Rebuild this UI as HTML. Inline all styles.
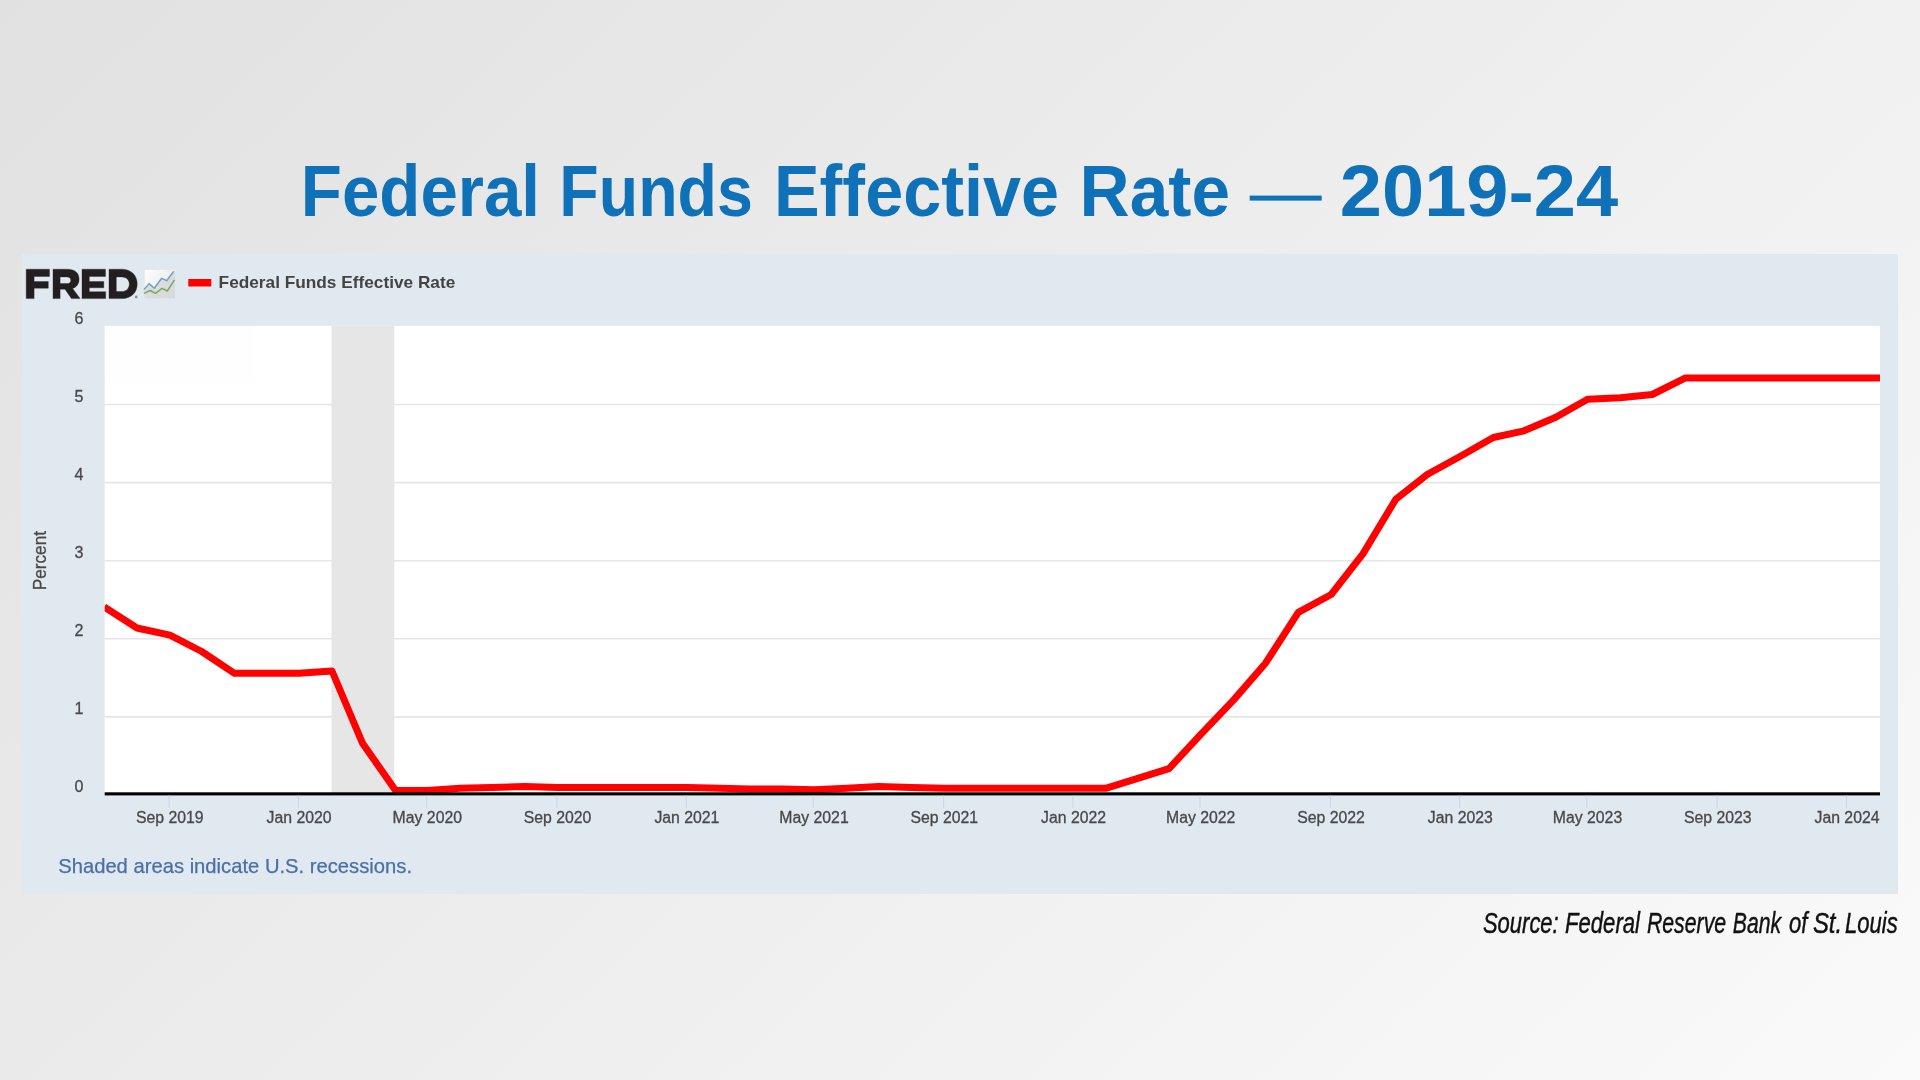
<!DOCTYPE html>
<html>
<head>
<meta charset="utf-8">
<title>Federal Funds Effective Rate</title>
<style>
html,body{margin:0;padding:0;}
body{width:1920px;height:1080px;overflow:hidden;position:relative;font-family:"Liberation Sans",sans-serif;
background:linear-gradient(136.6deg,#e1e1e1 0%,#fafafa 100%);}
#panel{position:absolute;left:22px;top:254px;width:1876px;height:640px;background:#e1e9f0;}
#chart{position:absolute;left:0;top:0;width:1920px;height:1080px;opacity:0.999;will-change:transform;}
</style>
</head>
<body>
<div id="panel"></div>
<svg id="chart" width="1920" height="1080" viewBox="0 0 1920 1080" font-family="Liberation Sans, sans-serif">
  <defs>
    <linearGradient id="icg" x1="0" y1="0" x2="1" y2="1">
      <stop offset="0" stop-color="#ffffff"/><stop offset="0.55" stop-color="#efefef"/><stop offset="1" stop-color="#d9d9d9"/>
    </linearGradient>
    <clipPath id="plotc"><rect x="104.7" y="325.9" width="1775.3" height="470"/></clipPath>
    <clipPath id="icc"><rect x="144.5" y="269.6" width="30.5" height="28.8" rx="2" ry="2"/></clipPath>
  </defs>
  <!-- title -->
  <g font-size="72.5" font-weight="bold" fill="#0f71b8"><text x="300.86" y="216.3" textLength="239.19" lengthAdjust="spacingAndGlyphs">Federal</text><text x="559.35" y="216.3" textLength="193.44" lengthAdjust="spacingAndGlyphs">Funds</text><text x="773.98" y="216.3" textLength="285.11" lengthAdjust="spacingAndGlyphs">Effective</text><text x="1079.61" y="216.3" textLength="150.45" lengthAdjust="spacingAndGlyphs">Rate</text><text x="1339.86" y="216.3" textLength="278.22" lengthAdjust="spacingAndGlyphs">2019-24</text></g>
  <rect x="1249.7" y="195.6" width="72" height="5" fill="#0f71b8"/>
  <!-- plot -->
  <rect x="104.7" y="325.9" width="1775.3" height="469" fill="#ffffff"/>
  <rect x="331.5" y="325.9" width="62.8" height="468" fill="#e6e6e6"/>
  <g stroke="#e6e6e6" stroke-width="1.6"><line x1="104.7" x2="1880" y1="716.9" y2="716.9"/><line x1="104.7" x2="1880" y1="638.8" y2="638.8"/><line x1="104.7" x2="1880" y1="560.7" y2="560.7"/><line x1="104.7" x2="1880" y1="482.6" y2="482.6"/><line x1="104.7" x2="1880" y1="404.5" y2="404.5"/></g>
  <polyline clip-path="url(#plotc)" fill="none" stroke="#ff0000" stroke-width="7" stroke-linejoin="round" stroke-linecap="butt" points="104.2,607.0 137.0,628.0 169.9,635.1 201.7,651.5 234.5,673.3 266.3,673.3 299.2,673.3 332.0,671.0 362.7,743.6 395.6,790.5 427.4,790.5 460.2,788.2 492.0,787.4 524.8,786.6 557.7,787.4 589.5,787.4 622.3,787.4 654.1,787.4 687.0,787.4 719.8,788.2 749.5,788.9 782.3,788.9 814.1,789.7 846.9,788.2 878.7,786.6 911.6,787.4 944.4,788.2 976.2,788.2 1009.1,788.2 1040.8,788.2 1073.7,788.2 1106.5,788.2 1136.2,778.8 1169.0,768.6 1200.8,734.3 1233.7,699.9 1265.5,663.2 1298.3,612.4 1331.2,594.5 1362.9,553.9 1395.8,499.2 1427.6,474.2 1460.4,456.2 1493.3,437.5 1522.9,431.2 1555.8,417.2 1587.6,399.2 1620.4,397.7 1652.2,394.5 1685.0,378.1 1717.9,378.1 1749.7,378.1 1782.5,378.1 1814.3,378.1 1847.2,378.1 1880.0,378.1"/>
  <rect x="104.7" y="792.3" width="1775.3" height="3.1" fill="#000"/>
  <g stroke="#c9d4e8" stroke-width="1"><line x1="169.1" y1="795.5" x2="169.1" y2="807.8"/><line x1="298.4" y1="795.5" x2="298.4" y2="807.8"/><line x1="426.6" y1="795.5" x2="426.6" y2="807.8"/><line x1="556.9" y1="795.5" x2="556.9" y2="807.8"/><line x1="686.2" y1="795.5" x2="686.2" y2="807.8"/><line x1="813.3" y1="795.5" x2="813.3" y2="807.8"/><line x1="943.6" y1="795.5" x2="943.6" y2="807.8"/><line x1="1072.9" y1="795.5" x2="1072.9" y2="807.8"/><line x1="1200.0" y1="795.5" x2="1200.0" y2="807.8"/><line x1="1330.4" y1="795.5" x2="1330.4" y2="807.8"/><line x1="1459.6" y1="795.5" x2="1459.6" y2="807.8"/><line x1="1586.8" y1="795.5" x2="1586.8" y2="807.8"/><line x1="1717.1" y1="795.5" x2="1717.1" y2="807.8"/><line x1="1846.4" y1="795.5" x2="1846.4" y2="807.8"/></g>
  <g font-size="15.8" fill="#484848" stroke="#484848" stroke-width="0.3"><text x="169.8" y="822.5" text-anchor="middle">Sep 2019</text><text x="299.1" y="822.5" text-anchor="middle">Jan 2020</text><text x="427.3" y="822.5" text-anchor="middle">May 2020</text><text x="557.6" y="822.5" text-anchor="middle">Sep 2020</text><text x="686.9" y="822.5" text-anchor="middle">Jan 2021</text><text x="814.0" y="822.5" text-anchor="middle">May 2021</text><text x="944.3" y="822.5" text-anchor="middle">Sep 2021</text><text x="1073.6" y="822.5" text-anchor="middle">Jan 2022</text><text x="1200.7" y="822.5" text-anchor="middle">May 2022</text><text x="1331.1" y="822.5" text-anchor="middle">Sep 2022</text><text x="1460.3" y="822.5" text-anchor="middle">Jan 2023</text><text x="1587.5" y="822.5" text-anchor="middle">May 2023</text><text x="1717.8" y="822.5" text-anchor="middle">Sep 2023</text><text x="1879.5" y="822.5" text-anchor="end">Jan 2024</text></g>
  <g font-size="16" fill="#484848" stroke="#484848" stroke-width="0.3"><text x="78.9" y="792.1" text-anchor="middle">0</text><text x="78.9" y="714.0" text-anchor="middle">1</text><text x="78.9" y="635.9" text-anchor="middle">2</text><text x="78.9" y="557.8" text-anchor="middle">3</text><text x="78.9" y="479.7" text-anchor="middle">4</text><text x="78.9" y="401.6" text-anchor="middle">5</text><text x="78.9" y="323.5" text-anchor="middle">6</text></g>
  <text transform="translate(46.2,588.3) rotate(-90)" font-size="18" fill="#484848" stroke="#484848" stroke-width="0.3" textLength="59.2" lengthAdjust="spacingAndGlyphs" x="-1.9" y="0">Percent</text>
  <!-- FRED logo -->
  <g fill="#231f20" fill-rule="evenodd" stroke="#231f20" stroke-opacity="0.4" stroke-width="0.9">
    <path d="M26.2,269.2H49.5V276.5H34.1V281.5H48.3V288.2H34.1V298.6H26.2Z"/>
    <path d="M53,269.2H67.5C75,269.2 79.1,273 79.1,279.2C79.1,284 76.6,287.1 72.6,288.4L80.1,298.6H71.4L65,289.2H60.1V298.6H53ZM60.1,276.9V283.6H67C69.5,283.6 70.8,282.3 70.8,280.2C70.8,278.2 69.5,276.9 67,276.9Z"/>
    <path d="M82,269.2H105.5V276.5H89.3V281.5H103.8V287.8H89.3V291.7H105.7V298.6H82Z"/>
    <path d="M109,269.2H121.5C131.3,269.2 137.2,275.3 137.2,283.9C137.2,292.5 131.3,298.6 121.5,298.6H109ZM116.3,276.9V291.5H121.5C126.3,291.5 129.3,288.4 129.3,283.9C129.3,279.7 126.3,276.9 121.5,276.9Z"/>
  </g>
  <circle cx="136.2" cy="297" r="1.4" fill="#8a8f96"/>
  <!-- FRED icon -->
  <g>
  <g clip-path="url(#icc)">
    <rect x="144.5" y="269.6" width="30.5" height="28.8" fill="url(#icg)"/>
    <path d="M143.9,289.6L149.1,283.6L154.3,288.3L161.7,278.3L166.7,280.7L173.6,271.4L175,271V298.4H143.9Z" fill="#d6d8dc" opacity="0.85"/>
  </g>
  <polyline points="143.9,289.6 149.1,283.6 154.3,288.3 161.7,278.3 166.7,280.7 173.6,271.4" fill="none" stroke="#6b9abd" stroke-opacity="0.95" stroke-width="1.45" stroke-linejoin="round" stroke-linecap="butt"/>
  <polyline points="143.9,293.4 150.2,290.5 155.4,293.3 162.1,288.3 167.3,291 174.5,279.9" fill="none" stroke="#6faa55" stroke-opacity="0.95" stroke-width="1.45" stroke-linejoin="round" stroke-linecap="butt"/>
  </g>
  <!-- legend -->
  <rect x="188.3" y="279" width="23" height="7.5" fill="#ff0000"/>
  <g font-size="17.35" font-weight="bold" fill="#444"><text x="218.61" y="288.0" textLength="236.66" lengthAdjust="spacingAndGlyphs">Federal Funds Effective Rate</text></g>
  <g font-size="20.3" fill="#4a6fa8" stroke="#4a6fa8" stroke-width="0.25"><text x="58.20" y="873.0" textLength="353.81" lengthAdjust="spacingAndGlyphs">Shaded areas indicate U.S. recessions.</text></g>
  <!-- source -->
  <g font-size="29.5" font-style="italic" fill="#111" stroke="#111" stroke-width="0.45"><text x="1482.96" y="933.0" textLength="75.75" lengthAdjust="spacingAndGlyphs">Source:</text><text x="1565.05" y="933.0" textLength="74.92" lengthAdjust="spacingAndGlyphs">Federal</text><text x="1646.88" y="933.0" textLength="79.24" lengthAdjust="spacingAndGlyphs">Reserve</text><text x="1732.78" y="933.0" textLength="48.28" lengthAdjust="spacingAndGlyphs">Bank</text><text x="1788.95" y="933.0" textLength="18.36" lengthAdjust="spacingAndGlyphs">of</text><text x="1812.89" y="933.0" textLength="29.33" lengthAdjust="spacingAndGlyphs">St.</text><text x="1845.05" y="933.0" textLength="52.75" lengthAdjust="spacingAndGlyphs">Louis</text></g>
</svg>
</body>
</html>
